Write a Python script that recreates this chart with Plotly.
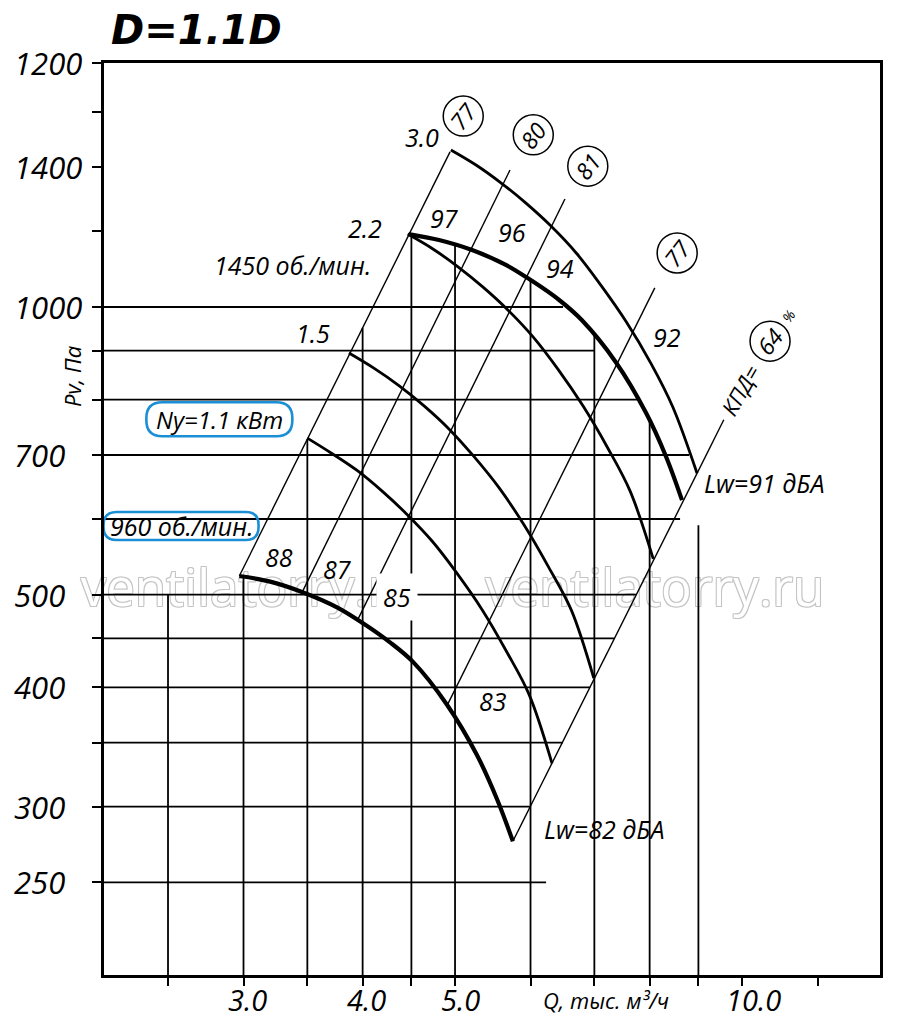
import numpy as np
import plotly.graph_objects as go

# fan curves, Q in thousand m3/h, Pv in Pa
q_960 = [2.97, 3.20, 3.46, 3.76, 4.00, 4.27, 4.52, 4.90, 5.27, 5.53, 5.75]
p_960 = [523, 516, 503, 485, 467, 446, 425, 384, 340, 306, 276]

q_1450 = [4.47, 4.81, 5.21, 5.66, 6.02, 6.43, 6.79, 7.37, 7.93, 8.32, 8.65]
p_1450 = [1192, 1175, 1147, 1106, 1065, 1017, 969, 876, 775, 698, 628]

# thin curves, one per motor (kW)
q_n11 = [3.50, 3.71, 3.95, 4.19, 4.45, 4.73, 5.02, 5.34, 5.67, 5.98, 6.32]
p_n11 = [729, 703, 674, 642, 607, 569, 527, 482, 435, 393, 333]
q_n15 = [3.87, 4.11, 4.37, 4.64, 4.93, 5.23, 5.56, 5.91, 6.27, 6.62, 6.99]
p_n15 = [895, 863, 827, 788, 745, 698, 647, 591, 534, 482, 409]
q_n22 = [4.46, 4.74, 5.04, 5.35, 5.68, 6.04, 6.41, 6.81, 7.23, 7.63, 8.07]
p_n22 = [1192, 1150, 1101, 1049, 993, 930, 861, 788, 712, 642, 545]
q_n30 = [4.95, 5.26, 5.59, 5.93, 6.30, 6.70, 7.11, 7.56, 8.03, 8.46, 8.97]
p_n30 = [1460, 1408, 1348, 1285, 1216, 1139, 1054, 965, 872, 786, 670]

# efficiency lines (P ~ Q^2), from the 960 curve up
eff_labels = ["77", "80", "81", "77", "64"]
eff_q_lo = [2.97, 3.46, 3.95, 4.90, 5.75]
eff_p_lo = [523, 504, 470, 382, 276]
eff_q_hi = [4.94, 5.71, 6.52, 8.10, 9.57]
eff_p_hi = [1453, 1391, 1297, 1047, 762]

# sound power levels between efficiency lines
lw_1450 = ["97", "96", "94", "92"]
lw_960 = ["88", "87", "85", "83"]

# grid lines that stop at the curves
hgrid_p = [1000, 900, 800, 700, 600, 500, 450, 400, 350, 300, 250]
hgrid_q_end = [6.49, 7.00, 7.76, 8.80, 8.61, 7.74, 7.34, 6.93, 6.49, 5.99, 6.23]
vgrid_q = [2.5, 3.0, 3.5, 4.0, 4.5, 5.0, 6.0, 7.0, 8.0, 9.0]
vgrid_p_top = [500, 523, 727, 951, 1192, 1162, 1067, 935, 761, 591]

x_ticks = [2.5, 3, 3.5, 4, 4.5, 5, 6, 7, 8, 9, 10, 12]
x_label_vals = [3, 4, 5, 10]
x_label_text = ["3.0", "4.0", "5.0", "10.0"]
y_ticks = [250, 300, 350, 400, 450, 500, 600, 700, 800, 900, 1000, 1200, 1400, 1600, 1800]
y_label_vals = [1800, 1400, 1000, 700, 500, 400, 300, 250]
y_label_text = ["1200", "1400", "1000", "700", "500", "400", "300", "250"]

X_RANGE = [0.3308, 1.1447]
Y_RANGE = [2.3010, 3.2553]
Q_MIN = 10 ** X_RANGE[0]
P_MIN = 10 ** Y_RANGE[0]

INK = "black"
BLUE = "#1a8fd6"
FONT = "Open Sans"


def txt(size):
    return dict(family=FONT, size=size, color=INK, style="italic")


def pill(w, h, r):
    x0, x1, y0, y1 = -w / 2, w / 2, -h / 2, h / 2
    return (f"M{x0 + r},{y0} L{x1 - r},{y0} Q{x1},{y0} {x1},{y0 + r} "
            f"L{x1},{y1 - r} Q{x1},{y1} {x1 - r},{y1} L{x0 + r},{y1} "
            f"Q{x0},{y1} {x0},{y1 - r} L{x0},{y0 + r} Q{x0},{y0} {x0 + r},{y0} Z")


def ring(r):
    k = 0.5523 * r
    return (f"M{r},0 C{r},{k} {k},{r} 0,{r} C{-k},{r} {-r},{k} {-r},0 "
            f"C{-r},{-k} {-k},{-r} 0,{-r} C{k},{-r} {r},{-k} {r},0 Z")


fig = go.Figure()

# watermark, under everything
fig.add_trace(go.Scatter(
    x=[3.05, 8.10], y=[502, 502], mode="text",
    text=["ventilatorry.ru", "ventilatorry.ru"], cliponaxis=False,
    textfont=dict(family=FONT, size=51, color="white",
                  shadow="-1px -1px 0 #c4c4c4, 1px -1px 0 #c4c4c4, -1px 1px 0 #c4c4c4, 1px 1px 0 #c4c4c4"),
    hoverinfo="skip"))

for p, q_end in zip(hgrid_p, hgrid_q_end):
    fig.add_trace(go.Scatter(x=[Q_MIN, q_end], y=[p, p], mode="lines",
                             line=dict(color=INK, width=1.8), hoverinfo="skip"))
for q, p_top in zip(vgrid_q, vgrid_p_top):
    fig.add_trace(go.Scatter(x=[q, q], y=[P_MIN, p_top], mode="lines",
                             line=dict(color=INK, width=1.8), hoverinfo="skip"))

for ql, pl, qh, ph in zip(eff_q_lo, eff_p_lo, eff_q_hi, eff_p_hi):
    fig.add_trace(go.Scatter(x=[ql, qh], y=[pl, ph], mode="lines",
                             line=dict(color=INK, width=1.4), hoverinfo="skip"))

for q, p in [(q_n11, p_n11), (q_n15, p_n15), (q_n22, p_n22), (q_n30, p_n30)]:
    fig.add_trace(go.Scatter(x=q, y=p, mode="lines",
                             line=dict(color=INK, width=2.8, shape="spline", smoothing=1.0),
                             hoverinfo="skip"))
for q, p in [(q_960, p_960), (q_1450, p_1450)]:
    fig.add_trace(go.Scatter(x=q, y=p, mode="lines",
                             line=dict(color=INK, width=4.2, shape="spline", smoothing=1.0),
                             hoverinfo="skip"))

ann = []


def data_text(text, q, p, size=25, **kw):
    ann.append(dict(text=text, x=np.log10(q), y=np.log10(p), xref="x", yref="y",
                    xanchor=kw.pop("xanchor", "center"), yanchor="middle",
                    showarrow=False, font=txt(size), **kw))


def page_text(text, x, y, size, xanchor="center", **kw):
    ann.append(dict(text=text, x=x, y=y, xref="paper", yref="paper",
                    xanchor=xanchor, yanchor="middle", showarrow=False,
                    font=kw.pop("font", txt(size)), **kw))


data_text("3.0", 4.62, 1506)
data_text("2.2", 4.02, 1210)
data_text("1450 об./мин.", 3.38, 1106)
data_text("1.5", 3.55, 939)
data_text("Ny=1.1 кВт", 2.83, 763, size=24)
data_text("960 об./мин.", 2.58, 590)

for t, q, p in zip(lw_1450, [4.88, 5.74, 6.44, 8.34], [1239, 1198, 1099, 930]):
    data_text(t, q, p)
for t, q, p in zip(lw_960, [3.27, 3.76, 4.35, 5.48], [548, 532, 497, 387]):
    if t == "85":
        data_text(t, q, p, bgcolor="white", borderpad=6)
    else:
        data_text(t, q, p)

data_text("Lw=91 дБА", 9.08, 654, xanchor="left")
data_text("Lw=82 дБА", 6.17, 284, xanchor="left")

# circled efficiency values
circ_q = [5.10, 6.04, 6.89, 8.55, 10.70]
circ_p = [1584, 1514, 1404, 1139, 921]
shapes = []
for t, q, p in zip(eff_labels, circ_q, circ_p):
    shapes.append(dict(type="path", xref="x", yref="y", xsizemode="pixel", ysizemode="pixel",
                       xanchor=q, yanchor=p, path=ring(20),
                       line=dict(color=INK, width=1.5)))
    data_text(t, q, p, size=23, textangle=-52)
data_text("КПД=", 9.95, 819, size=22, textangle=-60)
data_text("%", 11.20, 979, size=14, textangle=-55)

# blue rounded boxes
shapes.append(dict(type="path", xref="x", yref="y", xsizemode="pixel", ysizemode="pixel",
                   xanchor=2.83, yanchor=763, path=pill(146, 34, 16),
                   line=dict(color=BLUE, width=2.6)))
shapes.append(dict(type="path", xref="x", yref="y", xsizemode="pixel", ysizemode="pixel",
                   xanchor=2.58, yanchor=590, path=pill(155, 28, 13),
                   line=dict(color=BLUE, width=2.6)))

# tick labels as text, placed like the original
for v, t in zip(y_label_vals, y_label_text):
    ann.append(dict(text=t, x=-0.1186, y=np.log10(v), xref="paper", yref="y",
                    xanchor="left", yanchor="middle", showarrow=False, font=txt(31)))
for v, t, dx in zip(x_label_vals, x_label_text, [4, 4, 5, 11]):
    ann.append(dict(text=t, x=np.log10(v), y=-0.0274, xref="x", yref="paper",
                    xanchor="center", yanchor="middle", xshift=dx,
                    showarrow=False, font=txt(29)))

page_text("Pv, Па", -0.041, 0.656, 22, textangle=-90)
page_text("Q, тыс. м³/ч", 0.647, -0.0274, 22)
page_text("D=1.1D", 0.006, 1.036, 40, xanchor="left",
          font=dict(family="DejaVu Sans", size=40, color=INK, weight="bold", style="italic"))

fig.update_layout(
    template="none",
    width=900, height=1021,
    margin=dict(l=104, r=20, t=63, b=46),
    paper_bgcolor="white", plot_bgcolor="white",
    showlegend=False,
    annotations=ann,
    shapes=shapes,
    xaxis=dict(type="log", range=X_RANGE, showgrid=False, zeroline=False,
               showline=True, linewidth=3, linecolor=INK, mirror=True,
               ticks="outside", ticklen=8, tickwidth=2, tickcolor=INK,
               tickvals=x_ticks, showticklabels=False),
    yaxis=dict(type="log", range=Y_RANGE, showgrid=False, zeroline=False,
               showline=True, linewidth=3, linecolor=INK, mirror=True,
               ticks="outside", ticklen=9, tickwidth=2, tickcolor=INK,
               tickvals=y_ticks, showticklabels=False),
)

fig.write_html("out.html", config={"displayModeBar": False},
               post_script="document.body.style.margin='0px';")
